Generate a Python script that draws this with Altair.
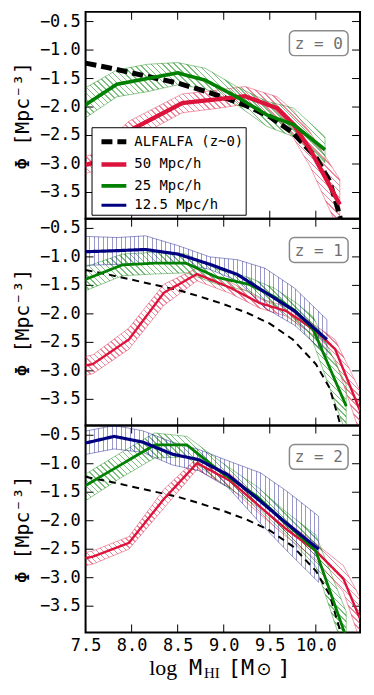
import altair as alt
import pandas as pd
import numpy as np

# ---------------- data ----------------
X_DOMAIN = [7.5, 10.48]
Y_DOMAIN = [-3.96, -0.33]
W, H = 276, 208

X_TICKS = [7.5, 8.0, 8.5, 9.0, 9.5, 10.0]
Y_TICKS = [-3.5, -3.0, -2.5, -2.0, -1.5, -1.0, -0.5]
Y_TICK_LABELS = ["−3.5", "−3.0", "−2.5", "−2.0", "−1.5", "−1.0", "−0.5"]

SERIES = ["ALFALFA (z~0)", "50 Mpc/h", "25 Mpc/h", "12.5 Mpc/h"]
COLORS = ["#000000", "#dc143c", "#008000", "#000080"]
PANEL_LABELS = ["z = 0", "z = 1", "z = 2"]

ALFALFA_X = [7.5, 7.75, 8.0, 8.25, 8.5, 8.75, 9.0, 9.25, 9.5, 9.75, 10.0, 10.15, 10.25, 10.35]
ALFALFA_Y = [-1.23, -1.31, -1.40, -1.49, -1.58, -1.70, -1.83, -1.98, -2.17, -2.45, -2.88, -3.30, -3.85, -4.5]

# z = 0
Z0_50_X = [7.49, 7.58, 7.97, 8.55, 8.95, 9.23, 9.58, 9.76, 9.94, 10.26]
Z0_50_Y = [-3.02, -2.98, -2.42, -1.93, -1.86, -1.81, -2.02, -2.31, -2.75, -3.71]
Z0_50_HI = [-2.87, -2.83, -2.25, -1.77, -1.70, -1.64, -1.82, -2.07, -2.45, -3.27]
Z0_50_LO = [-3.17, -3.13, -2.60, -2.10, -2.02, -1.95, -2.22, -2.55, -3.05, -4.20]

Z0_25_X = [7.49, 7.84, 8.17, 8.50, 8.80, 9.14, 9.47, 9.76, 10.10]
Z0_25_Y = [-1.97, -1.60, -1.50, -1.40, -1.53, -1.82, -2.14, -2.31, -2.75]
Z0_25_HI = [-1.67, -1.35, -1.25, -1.22, -1.32, -1.64, -1.90, -2.02, -2.52]
Z0_25_LO = [-2.20, -1.82, -1.73, -1.61, -1.68, -1.96, -2.34, -2.52, -2.98]

# z = 1
Z1_50_X = [7.49, 7.58, 7.97, 8.35, 8.71, 9.07, 9.39, 9.68, 10.0, 10.21, 10.48]
Z1_50_Y = [-2.91, -2.88, -2.45, -1.63, -1.30, -1.54, -1.81, -1.95, -2.30, -2.62, -3.70]
Z1_50_HI = [-2.75, -2.72, -2.25, -1.48, -1.20, -1.44, -1.73, -1.87, -2.21, -2.45, -3.35]
Z1_50_LO = [-3.08, -3.05, -2.62, -1.85, -1.42, -1.64, -1.90, -2.04, -2.40, -2.80, -4.10]

Z1_25_X = [7.49, 7.90, 8.25, 8.59, 8.93, 9.27, 9.55, 9.78, 9.97, 10.33]
Z1_25_Y = [-1.40, -1.14, -1.11, -1.11, -1.36, -1.48, -1.70, -1.95, -2.27, -3.62]
Z1_25_HI = [-1.18, -0.95, -0.92, -0.95, -1.22, -1.36, -1.55, -1.80, -2.05, -3.25]
Z1_25_LO = [-1.60, -1.33, -1.30, -1.28, -1.48, -1.60, -1.85, -2.15, -2.50, -4.10]

Z1_12_X = [7.49, 7.85, 8.15, 8.50, 8.85, 9.15, 9.45, 9.77, 10.12]
Z1_12_Y = [-0.91, -0.89, -0.87, -0.95, -1.13, -1.31, -1.62, -1.95, -2.45]
Z1_12_HI = [-0.64, -0.66, -0.63, -0.80, -1.00, -1.05, -1.20, -1.55, -2.10]
Z1_12_LO = [-1.15, -1.13, -1.12, -1.10, -1.22, -1.42, -1.90, -2.20, -2.72]

# z = 2
Z2_50_X = [7.49, 7.58, 7.97, 8.35, 8.71, 9.07, 9.39, 9.68, 10.0, 10.30, 10.48]
Z2_50_Y = [-2.66, -2.63, -2.39, -1.62, -0.99, -1.30, -1.75, -2.15, -2.53, -3.02, -3.72]
Z2_50_HI = [-2.56, -2.53, -2.28, -1.45, -0.90, -1.18, -1.62, -2.02, -2.40, -2.79, -3.35]
Z2_50_LO = [-2.79, -2.76, -2.50, -1.78, -1.10, -1.42, -1.88, -2.28, -2.68, -3.25, -4.10]

Z2_25_X = [7.49, 7.87, 8.25, 8.60, 8.98, 9.36, 9.68, 10.0, 10.33]
Z2_25_Y = [-1.39, -1.03, -0.67, -0.67, -1.16, -1.57, -2.05, -2.53, -4.05]
Z2_25_HI = [-1.19, -0.82, -0.46, -0.52, -0.98, -1.40, -1.85, -2.25, -3.60]
Z2_25_LO = [-1.66, -1.26, -0.90, -0.88, -1.34, -1.75, -2.25, -2.80, -4.40]

Z2_12_X = [7.49, 7.81, 8.12, 8.44, 8.73, 9.05, 9.40, 9.70, 10.03]
Z2_12_Y = [-0.64, -0.52, -0.62, -0.83, -0.93, -1.20, -1.66, -2.07, -2.50]
Z2_12_HI = [-0.43, -0.33, -0.42, -0.62, -0.75, -0.95, -1.16, -1.50, -1.92]
Z2_12_LO = [-0.84, -0.74, -0.80, -1.02, -1.12, -1.42, -2.05, -2.55, -3.08]

PANELS = [
    {"50 Mpc/h": (Z0_50_X, Z0_50_Y, Z0_50_HI, Z0_50_LO),
     "25 Mpc/h": (Z0_25_X, Z0_25_Y, Z0_25_HI, Z0_25_LO)},
    {"50 Mpc/h": (Z1_50_X, Z1_50_Y, Z1_50_HI, Z1_50_LO),
     "25 Mpc/h": (Z1_25_X, Z1_25_Y, Z1_25_HI, Z1_25_LO),
     "12.5 Mpc/h": (Z1_12_X, Z1_12_Y, Z1_12_HI, Z1_12_LO)},
    {"50 Mpc/h": (Z2_50_X, Z2_50_Y, Z2_50_HI, Z2_50_LO),
     "25 Mpc/h": (Z2_25_X, Z2_25_Y, Z2_25_HI, Z2_25_LO),
     "12.5 Mpc/h": (Z2_12_X, Z2_12_Y, Z2_12_HI, Z2_12_LO)},
]

# ---------------- style ----------------
MONO = "DejaVu Sans Mono"
COLOR_OF = dict(zip(SERIES, COLORS))
HATCH_OF = {"50 Mpc/h": "d", "25 Mpc/h": "d", "12.5 Mpc/h": "v"}
HATCH_OPACITY = {"50 Mpc/h": 0.5, "25 Mpc/h": 0.5, "12.5 Mpc/h": 0.4}
SX = W / (X_DOMAIN[1] - X_DOMAIN[0])
SY = H / (Y_DOMAIN[1] - Y_DOMAIN[0])


def xscale():
    return alt.Scale(domain=X_DOMAIN, nice=False, zero=False)


def yscale():
    return alt.Scale(domain=Y_DOMAIN, nice=False, zero=False)


def hatch_fill(color, kind, xs, his, los):
    w = (max(xs) - min(xs)) * SX
    h = (max(his) - min(los)) * SY
    clear = "rgba(255,255,255,0)"
    if kind == "v":
        x1, y1, x2, y2 = 0, 0, 1, 0
        spacing = 4.5
        n = int(round(w / spacing))
        frac = 1.0 / spacing
    else:
        k = (w + h) / (w * w + h * h)
        x1, y1, x2, y2 = 0, 1, k * w, 1 - k * h
        spacing = 4.2
        n = int(round((w + h) / (np.sqrt(2) * spacing)))
        frac = 1.1 / spacing
    stops = []
    for i in range(n):
        a = i / n
        b = (i + frac) / n
        stops += [alt.GradientStop(offset=a, color=clear),
                  alt.GradientStop(offset=a, color=color),
                  alt.GradientStop(offset=b, color=color),
                  alt.GradientStop(offset=b, color=clear)]
    return alt.LinearGradient(gradient="linear", stops=stops,
                              x1=x1, y1=y1, x2=x2, y2=y2)


def panel(idx):
    series = PANELS[idx]
    first = idx == 0
    last = idx == 2

    yaxis = alt.Axis(values=Y_TICKS, labels=False, ticks=False, domain=False, grid=False,
                     title="Φ  [Mpc⁻³]", titleFont=MONO, titleFontSize=20,
                     titleFontWeight="normal", titleColor="black", titlePadding=53)
    xaxis = alt.Axis(values=X_TICKS, format=".1f", labelFont=MONO, labelFontSize=17,
                     labelColor="black", ticks=False, domain=False, grid=False,
                     labelPadding=5, labelFlush=False, labelOverlap=False, title="")

    # x: panels 1-2 hide the axis in every layer; panel 3 defines it once
    def X(field, first_layer=False):
        if not last:
            return alt.X(field, scale=xscale(), axis=None)
        if first_layer:
            return alt.X(field, scale=xscale(), axis=xaxis)
        return alt.X(field, scale=xscale())

    def Y(field, first_layer=False):
        if first_layer:
            return alt.Y(field, scale=yscale(), axis=yaxis)
        return alt.Y(field, scale=yscale())

    layers = []
    # inward tick marks (the first two layers carry the axes)
    ydf = pd.DataFrame({"yt": Y_TICKS, "lab": Y_TICK_LABELS})
    xdf = pd.DataFrame({"xt": X_TICKS})
    layers.append(alt.Chart(ydf).mark_rule(color="black", strokeWidth=1).encode(
        y=Y("yt:Q", True), x=alt.value(0), x2=alt.value(8)))
    layers.append(alt.Chart(xdf).mark_rule(color="black", strokeWidth=1).encode(
        x=X("xt:Q", True), y=alt.value(H - 8), y2=alt.value(H)))
    layers.append(alt.Chart(ydf).mark_rule(color="black", strokeWidth=1).encode(
        y=Y("yt:Q"), x=alt.value(W - 8), x2=alt.value(W)))
    layers.append(alt.Chart(xdf).mark_rule(color="black", strokeWidth=1).encode(
        x=X("xt:Q"), y=alt.value(0), y2=alt.value(8)))
    # y tick labels
    layers.append(alt.Chart(ydf).mark_text(
        font=MONO, fontSize=17, color="black", align="right", baseline="middle").encode(
        y=Y("yt:Q"), x=alt.value(-5), text="lab:N"))

    # hatched bands
    for name in ["50 Mpc/h", "25 Mpc/h", "12.5 Mpc/h"]:
        if name not in series:
            continue
        xs, ys, his, los = series[name]
        df = pd.DataFrame({"x": xs, "hi": his, "lo": los})
        col = COLOR_OF[name]
        band = alt.Chart(df).mark_area(
            fill=hatch_fill(col, HATCH_OF[name], xs, his, los),
            fillOpacity=HATCH_OPACITY[name], stroke=col, strokeWidth=0.6, strokeOpacity=0.7,
            clip=True,
        ).encode(x=X("x:Q"), y=Y("hi:Q"), y2="lo:Q")
        layers.append(band)

    # lines
    rows = []
    for xv, yv in zip(ALFALFA_X, ALFALFA_Y):
        rows.append({"series": SERIES[0], "x": xv, "y": yv, "o": len(rows)})
    for name in ["50 Mpc/h", "25 Mpc/h", "12.5 Mpc/h"]:
        if name in series:
            xs, ys, _, _ = series[name]
            for xv, yv in zip(xs, ys):
                rows.append({"series": name, "x": xv, "y": yv, "o": len(rows)})
    ldf = pd.DataFrame(rows)

    if first:
        leg = alt.Legend(title=None, orient="none", legendX=6, legendY=116,
                         fillColor="white", strokeColor="black",
                         padding=2, labelFont=MONO, labelFontSize=14, labelColor="black",
                         labelOffset=8, symbolType="M-1.25,0L1.25,0", symbolSize=400,
                         symbolOffset=8, rowPadding=0, cornerRadius=0)
        widths = [5, 3, 3, 3]
        dashes = [[11, 5], [1, 0], [1, 0], [1, 0]]
    else:
        leg = None
        widths = [2, 3.2, 3.2, 3.2]
        dashes = [[7, 5], [1, 0], [1, 0], [1, 0]]

    lines = alt.Chart(ldf).mark_line(clip=True).encode(
        x=X("x:Q"), y=Y("y:Q"),
        color=alt.Color("series:N", scale=alt.Scale(domain=SERIES, range=COLORS), legend=leg),
        strokeDash=alt.StrokeDash("series:N", scale=alt.Scale(domain=SERIES, range=dashes), legend=leg),
        strokeWidth=alt.StrokeWidth("series:N", scale=alt.Scale(domain=SERIES, range=widths), legend=leg),
        order="o:Q",
    )
    layers.append(lines)

    # panel label box
    lab = pd.DataFrame({"label": [PANEL_LABELS[idx]]})
    layers.append(alt.Chart(lab).mark_rect(
        fill="white", stroke="#8a8a8a", strokeWidth=1.5, cornerRadius=5).encode(
        x=alt.value(205), x2=alt.value(264), y=alt.value(19), y2=alt.value(44)))
    layers.append(alt.Chart(lab).mark_text(
        font=MONO, fontSize=16, color="#707070", align="center", baseline="middle").encode(
        text="label:N", x=alt.value(234.5), y=alt.value(32)))

    if last:
        parts = [
            ("log", "Liberation Serif", 22, 64, 251),
            ("M", MONO, 22, 104, 251),
            ("HI", "Liberation Serif", 15, 119, 253.5),
            ("[M", MONO, 22, 143, 251),
            ("⊙", "DejaVu Sans", 18, 172, 251),
            ("]", MONO, 22, 193, 251),
        ]
        tdf = pd.DataFrame({"t": [p[0] for p in parts]})
        for i, (t, f, s, xp, yp) in enumerate(parts):
            layers.append(alt.Chart(tdf.iloc[[i]]).mark_text(
                font=f, fontSize=s, color="black", align="left", baseline="alphabetic").encode(
                text="t:N", x=alt.value(xp), y=alt.value(yp)))

    return alt.layer(*layers).properties(width=W, height=H)


chart = alt.vconcat(panel(0), panel(1), panel(2), spacing=0, bounds="flush").resolve_scale(
    color="independent", strokeDash="independent", strokeWidth="independent"
).resolve_legend(
    color="independent", strokeDash="independent", strokeWidth="independent"
).properties(
    padding={"left": 4, "top": 0, "right": 4, "bottom": 2}
).configure_view(stroke="black", strokeWidth=2)

chart.save("out.html", embed_options={"renderer": "svg", "actions": False})
